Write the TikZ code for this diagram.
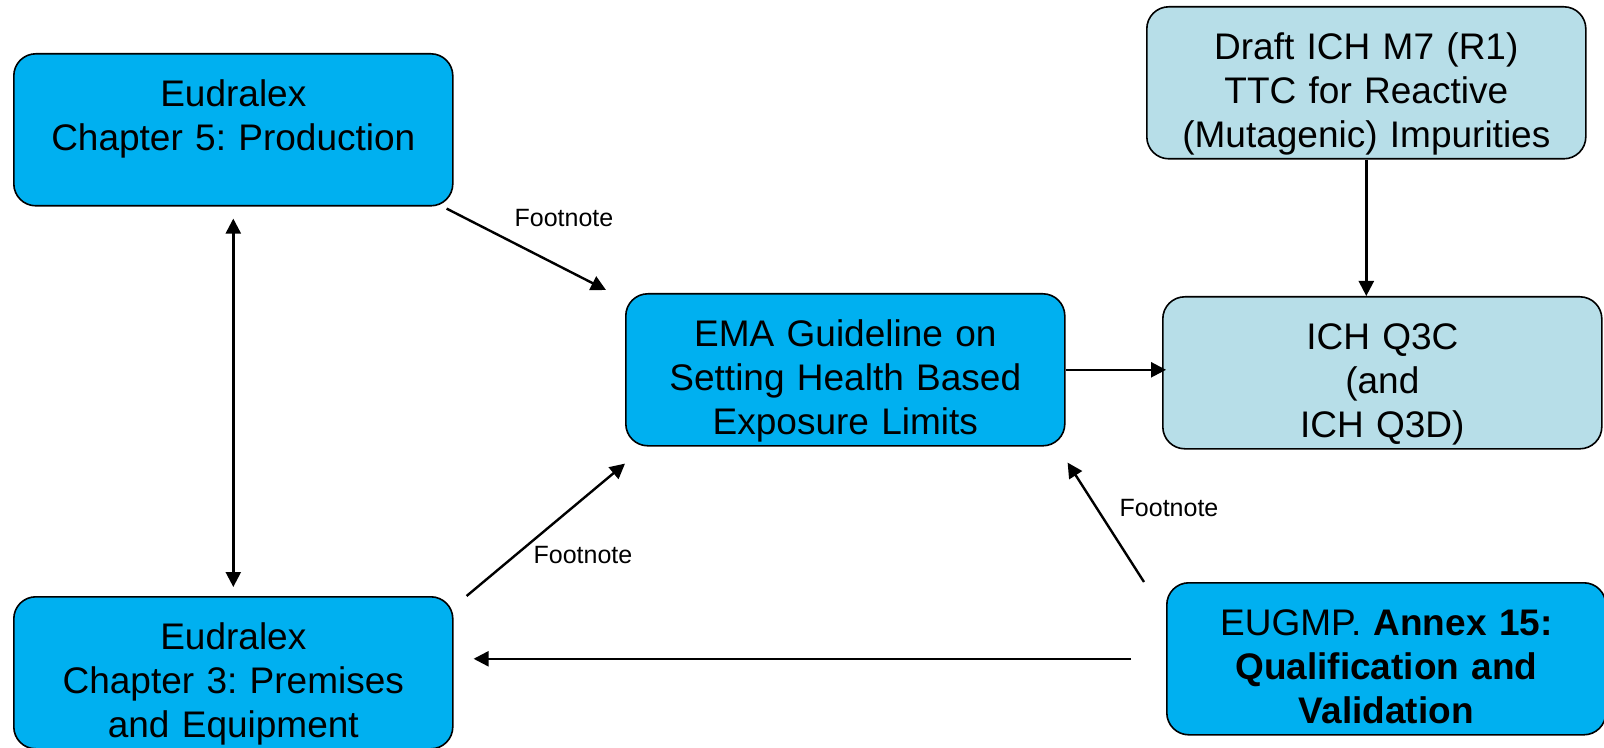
\documentclass[tikz,border=0pt]{standalone}
\usepackage{fontspec}
\setmainfont{Liberation Sans}
\usetikzlibrary{arrows.meta}
\definecolor{boxblue}{RGB}{0,176,240}
\definecolor{boxteal}{RGB}{183,222,232}
\tikzset{
	guidebox/.style={draw, line width=0.8pt, rounded corners=11pt, fill=boxblue, text width=219.5pt, align=center, inner sep=0pt, text height=26.5pt, text depth=49.5pt, anchor=north west, font=\fontsize{18.5}{22}\selectfont\frenchspacing},
	ichbox/.style={guidebox, fill=boxteal},
	link/.style={line width=1.2pt, -{Triangle[length=7.5pt,width=7.5pt]}},
	footnote/.style={font=\fontsize{12.5}{15}\selectfont, inner sep=0pt}
}

\begin{document}
\begin{tikzpicture}[x=0.5pt, y=-0.5pt]
			%%%%% START %%%%%
			\useasboundingbox[fill=white] (0, 0) rectangle (1604, 748);
			
			\node[guidebox] (chapfive) at (13, 53) {Eudralex\\Chapter 5: Production};
			\node[guidebox] (chapthree) at (13, 596) {Eudralex\\Chapter 3: Premises\\and Equipment};
			\node[guidebox] (ema) at (625, 293) {EMA Guideline on\\Setting Health Based\\Exposure Limits};
			\node[ichbox] (mseven) at (1146, 6) {Draft ICH M7 (R1)\\TTC for Reactive\\(Mutagenic) Impurities};
			\node[ichbox] (qthreec) at (1162, 296) {ICH Q3C\\(and\\ICH Q3D)};
			\node[guidebox] (annex) at (1166, 582) {EUGMP. \textbf{Annex 15:}\\\textbf{Qualification and}\\\textbf{Validation}};
			
			\draw[link, shorten <=6pt, shorten >=4.5pt, {Triangle[length=7.5pt,width=7.5pt]}-{Triangle[length=7.5pt,width=7.5pt]}] (chapfive) -- (chapthree);
			
			\draw[link] ([xshift=-3.5pt, yshift=-1pt]chapfive.south east) -- ([xshift=-9.5pt, yshift=1.5pt]ema.north west);
			\node[footnote] (notefive) at (564, 218) {Footnote};
			
			\draw[link] ([xshift=6.5pt]chapthree.north east) -- ([yshift=-8.5pt]ema.south west);
			\node[footnote] (notethree) at (583, 555) {Footnote};
			
			\draw[link] ([xshift=-11pt]annex.north west) -- ([xshift=1pt, yshift=-8pt]ema.south east);
			\node[footnote] (noteannex) at (1169, 508) {Footnote};
			
			\draw[link, shorten >=-2pt] (ema.east) -- (ema.east -| qthreec.west);
			\draw[link] (mseven.south) -- (mseven.south |- qthreec.north);
			\draw[link, shorten <=17.5pt, shorten >=10pt] (annex.west) -- (annex.west -| chapthree.east);
			%%%%% END %%%%%
\end{tikzpicture}
\end{document}
